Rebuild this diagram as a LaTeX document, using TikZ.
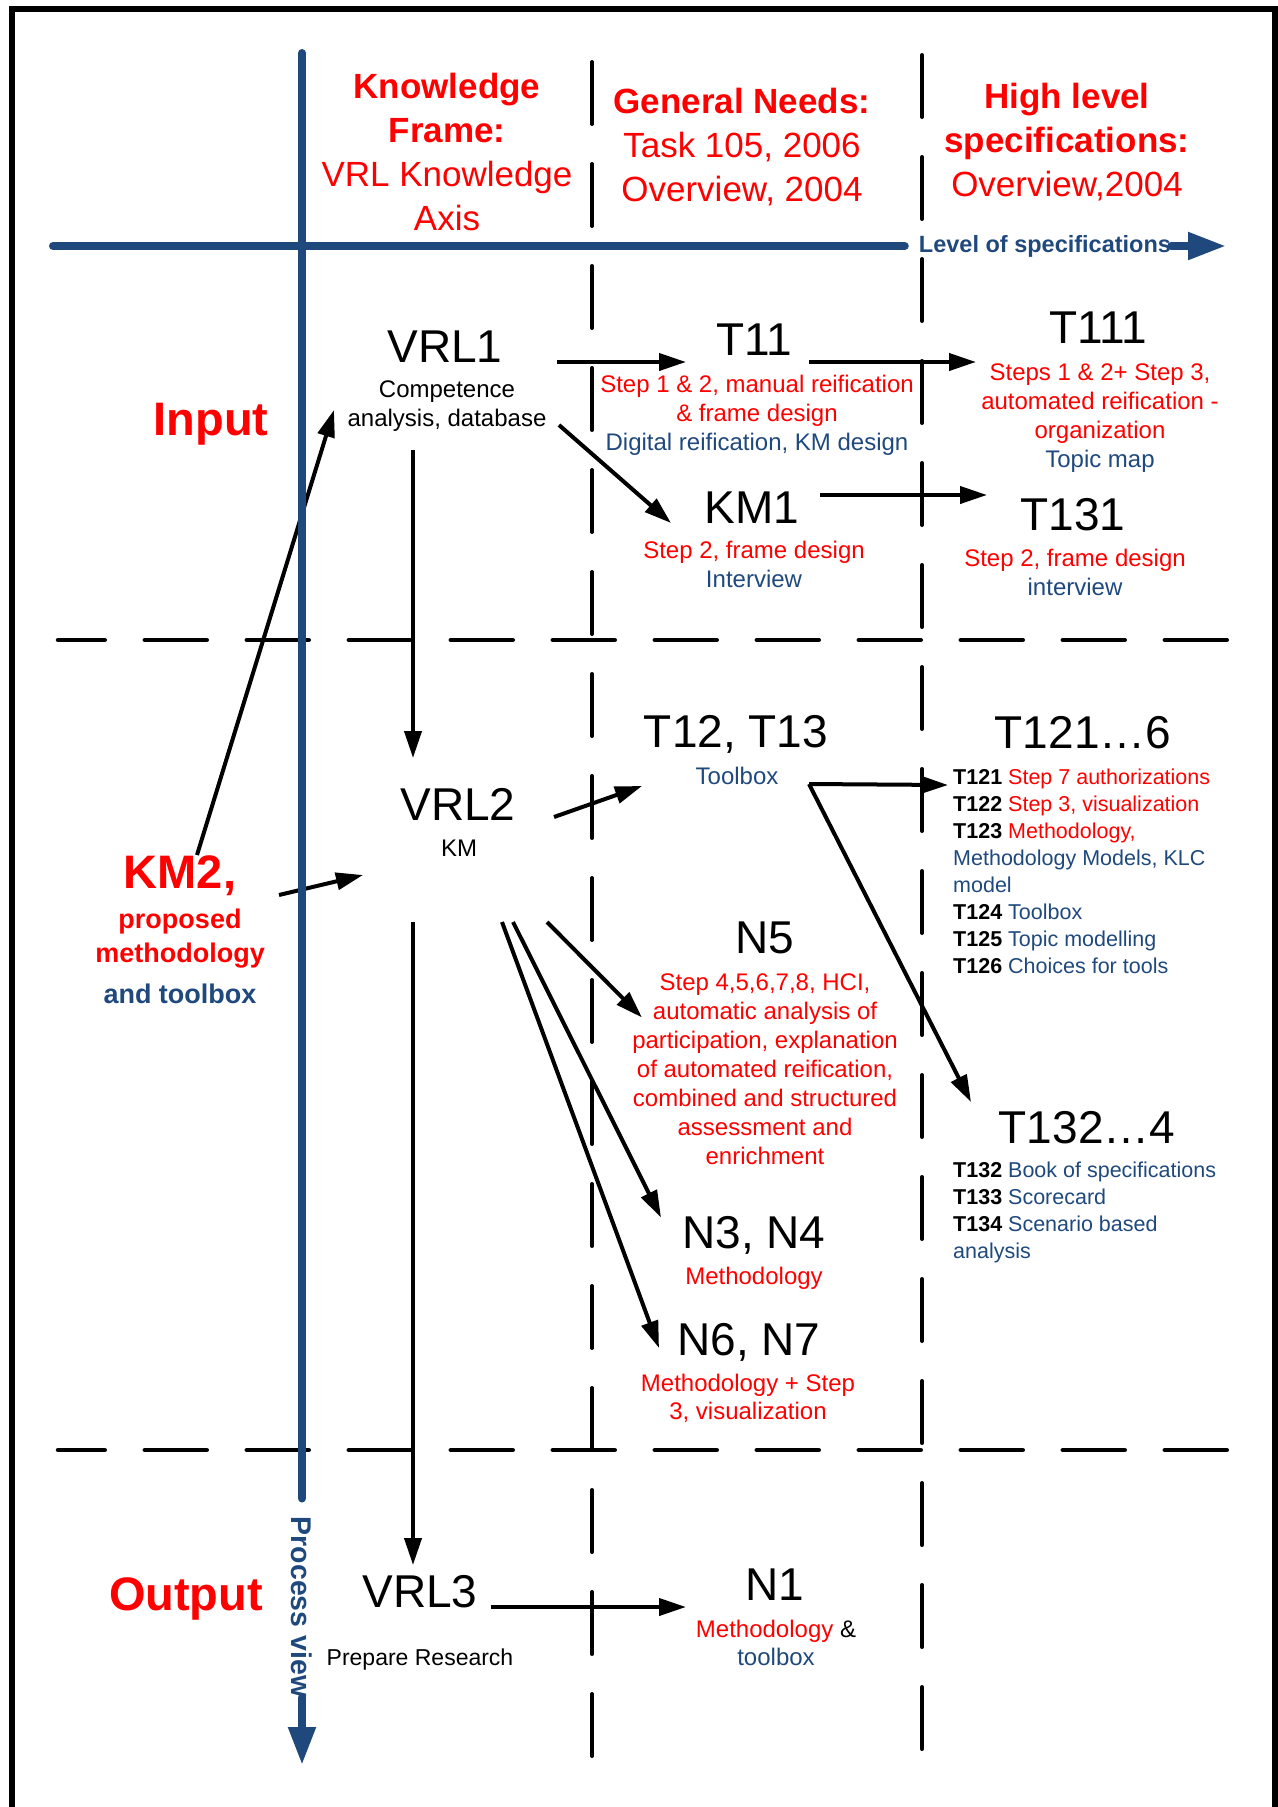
\documentclass[tikz,border=0pt]{standalone}
\usepackage{fontspec}
\setmainfont{Liberation Sans}
\usetikzlibrary{arrows.meta}
\definecolor{kred}{RGB}{255,0,0}
\definecolor{kblue}{RGB}{31,73,125}
\begin{document}
\begin{tikzpicture}[x=1pt, y=-1pt, line cap=butt, line join=miter,
	bigname/.style={font=\fontsize{46}{50}\selectfont, inner sep=0pt, anchor=base},
	rowname/.style={font=\bfseries\fontsize{47}{50}\selectfont, text=kred, inner sep=0pt, anchor=base},
	headtxt/.style={font=\fontsize{35}{44}\selectfont, text=kred, inner sep=0pt, align=center, anchor=north},
	subnote/.style={font=\fontsize{24}{29}\selectfont, inner sep=0pt, align=center, anchor=north},
	listtxt/.style={font=\fontsize{21.5}{26.9}\selectfont, inner sep=0pt, align=left, anchor=north west},
	arr/.style={line width=4pt, -{Triangle[length=27pt,width=17pt]}},
	axisline/.style={draw=kblue, line width=8pt, line cap=round},
	sepline/.style={line width=4pt, line cap=round, dash pattern=on 62pt off 40pt}]
	\useasboundingbox (0,0) rectangle (1277,1807);
	\draw[line width=6pt] (11.5,1830) -- (11.5,9) -- (1274.5,9) -- (1274.5,1830);
	\draw[sepline] (592,62) -- (592,1756);
	\draw[sepline] (922,55) -- (922,1749);
	\draw[sepline, line width=4.5pt, dash phase=15.25pt] (58,640) -- (1227,640);
	\draw[sepline, line width=4.5pt, dash phase=15.25pt] (58,1450) -- (1227,1450);
	\node[headtxt] (hdkf) at (447,73) {\textbf{Knowledge}\\\textbf{Frame:}\\VRL Knowledge\\Axis};
	\node[headtxt] (hdgn) at (742,88) {\textbf{General Needs:}\\Task 105, 2006\\Overview, 2004};
	\node[headtxt] (hdhl) at (1067,83) {\textbf{High level}\\\textbf{specifications:}\\Overview,2004};
	\node[rowname] (input) at (211,435) {Input};
	\node[rowname] (output) at (186,1610) {Output};
	\node[rowname] (km2) at (180,888) {KM2,};
	\node[subnote, font=\bfseries\fontsize{27}{34}\selectfont, text=kred] (km2txt) at (180,909) {proposed\\methodology\\[7pt]\textcolor{kblue}{and toolbox}};
	\node[bigname] (vrl1) at (445,362) {VRL1};
	\node[subnote] (vrl1txt) at (447,381) {Competence\\analysis, database};
	\node[bigname] (t11) at (754,355) {T11};
	\node[subnote, text=kred] (t11txt) at (757,375) {Step 1 \& 2, manual reification\\\& frame design\\\textcolor{kblue}{Digital reification, KM design}};
	\node[bigname] (t111) at (1098,343) {T111};
	\node[subnote, text=kred] (t111txt) at (1100,364) {Steps 1 \& 2+ Step 3,\\automated reification -\\organization\\\textcolor{kblue}{Topic map}};
	\node[bigname] (km1) at (752,523) {KM1};
	\node[subnote, text=kred] (km1txt) at (754,541) {Step 2, frame design\\\textcolor{kblue}{Interview}};
	\node[bigname] (t131) at (1073,530) {T131};
	\node[subnote, text=kred] (t131txt) at (1075,549) {Step 2, frame design\\\textcolor{kblue}{interview}};
	\node[bigname] (vrl2) at (458,820) {VRL2};
	\node[subnote, anchor=base] (vrl2txt) at (459,856) {KM};
	\node[bigname] (t1213) at (736,747) {T12, T13};
	\node[subnote, anchor=base, text=kblue] (toolbox) at (737,784) {Toolbox};
	\node[bigname] (t1216) at (1083,748) {T121…6};
	\node[listtxt] (t1216txt) at (953,769) {\textbf{T121} \textcolor{kred}{Step 7 authorizations}\\\textbf{T122} \textcolor{kred}{Step 3, visualization}\\\textbf{T123} \textcolor{kred}{Methodology,}\\\textcolor{kblue}{Methodology Models, KLC}\\\textcolor{kblue}{model}\\\textbf{T124} \textcolor{kblue}{Toolbox}\\\textbf{T125} \textcolor{kblue}{Topic modelling}\\\textbf{T126} \textcolor{kblue}{Choices for tools}};
	\node[bigname] (n5) at (765,953) {N5};
	\node[subnote, text=kred] (n5txt) at (765,974) {Step 4,5,6,7,8, HCI,\\automatic analysis of\\participation, explanation\\of automated reification,\\combined and structured\\assessment and\\enrichment};
	\node[bigname] (t1324) at (1087,1143) {T132…4};
	\node[listtxt] (t1324txt) at (953,1162) {\textbf{T132} \textcolor{kblue}{Book of specifications}\\\textbf{T133} \textcolor{kblue}{Scorecard}\\\textbf{T134} \textcolor{kblue}{Scenario based}\\\textcolor{kblue}{analysis}};
	\node[bigname] (n34) at (754,1248) {N3, N4};
	\node[subnote, anchor=base, text=kred] (n34txt) at (754,1284) {Methodology};
	\node[bigname] (n67) at (749,1355) {N6, N7};
	\node[subnote, text=kred, font=\fontsize{24}{28}\selectfont] (n67txt) at (748,1374) {Methodology + Step\\3, visualization};
	\node[bigname] (vrl3) at (420,1607) {VRL3};
	\node[subnote, anchor=base, font=\fontsize{23}{28}\selectfont] (vrl3txt) at (420,1665) {Prepare Research};
	\node[bigname] (n1) at (775,1600) {N1};
	\node[subnote, font=\fontsize{24}{28}\selectfont] (n1txt) at (776,1620) {\textcolor{kred}{Methodology} \&\\\textcolor{kblue}{toolbox}};
	\draw[arr] ([shift={(17,-33)}]km2.base) -- ([shift={(-111,48)}]vrl1.base);
	\draw[arr] ([shift={(99,7)}]km2.base) -- ([shift={(-95,55)}]vrl2.base);
	\draw[arr] ([shift={(112,0)}]vrl1.base) -- ([shift={(-68,7)}]t11.base);
	\draw[arr] ([shift={(55,7)}]t11.base) -- ([shift={(-122,19)}]t111.base);
	\draw[arr] ([shift={(114,63)}]vrl1.base) -- ([shift={(-81,0)}]km1.base);
	\draw[arr] ([shift={(68,-28)}]km1.base) -- ([shift={(-86,-35)}]t131.base);
	\draw[arr] ([shift={(-32,88)}]vrl1.base) -- ([shift={(-45,-62)}]vrl2.base);
	\draw[arr] ([shift={(96,-3)}]vrl2.base) -- ([shift={(-94,39)}]t1213.base);
	\draw[arr] ([shift={(89,102)}]vrl2.base) -- ([shift={(-123,64.5)}]n5.base);
	\draw[arr] ([shift={(55,102)}]vrl2.base) -- ([shift={(-93,-30.5)}]n34.base);
	\draw[arr] ([shift={(44,102)}]vrl2.base) -- ([shift={(-90,-7)}]n67.base);
	\draw[arr] ([shift={(-45,102)}]vrl2.base) -- ([shift={(-7,-42)}]vrl3.base);
	\draw[arr] ([shift={(72,0)}]toolbox.base) -- ([shift={(-135,37)}]t1216.base);
	\draw[arr] ([shift={(72,0)}]toolbox.base) -- ([shift={(-116,-41)}]t1324.base);
	\draw[arr] ([shift={(71,0)}]vrl3.base) -- ([shift={(-89,7)}]n1.base);
	\coordinate (h0) at (53,246);
	\coordinate (h1) at (1226,246);
	\node[font=\bfseries\fontsize{23.5}{28}\selectfont, text=kblue, inner sep=0pt] (lvl) at (1045,246) {Level of specifications};
	\draw[axisline] (h0) -- ([xshift=-14pt]lvl.west);
	\draw[axisline, -{Triangle[length=38pt,width=26pt]}] (lvl.east) -- (h1);
	\coordinate (v0) at (302,53);
	\coordinate (v1) at (302,1765);
	\node[font=\bfseries\fontsize{28.5}{32}\selectfont, text=kblue, inner sep=0pt, rotate=-90] (pv) at (302,1607) {Process view};
	\draw[axisline] (v0) -- ([yshift=18pt]pv.west);
	\draw[axisline, -{Triangle[length=38pt,width=26pt]}] (pv.east) -- (v1);
\end{tikzpicture}
\end{document}
